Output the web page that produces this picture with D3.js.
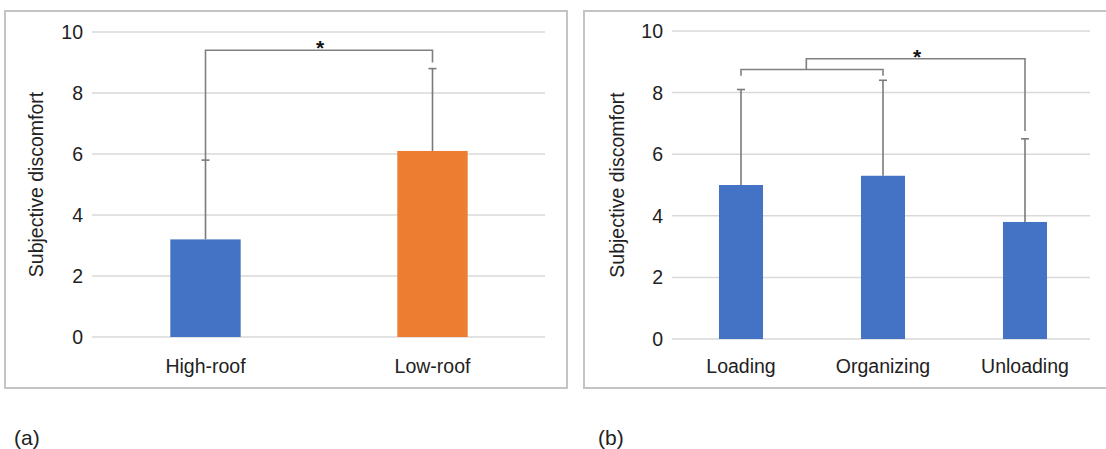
<!DOCTYPE html>
<html>
<head>
<meta charset="utf-8">
<title>Subjective discomfort</title>
<script src="https://cdn.jsdelivr.net/npm/d3@7"></script>
<style>
  body { margin: 0; background: #fff; }
  svg { display: block; font-family: "Liberation Sans", Arial, sans-serif; }
</style>
</head>
<body>
<div id="chart"></div>
<script>
// data
const roof_categories = ["High-roof", "Low-roof"];
const roof_means = [3.2, 6.1];
const roof_sd = [2.6, 2.7];
const roof_colors = ["#4472C4", "#ED7D31"];

const task_categories = ["Loading", "Organizing", "Unloading"];
const task_means = [5.0, 5.3, 3.8];
const task_sd = [3.1, 3.1, 2.7];
const task_colors = ["#4472C4", "#4472C4", "#4472C4"];

const y_ticks = [0, 2, 4, 6, 8, 10];
const y_label = "Subjective discomfort";
const panel_labels = ["(a)", "(b)"];

const svg = d3.select("#chart").append("svg")
  .attr("width", 1106).attr("height", 449);

function panel(settings) {
  const g = svg.append("g");
  const box = settings.box;

  g.append("rect")
    .attr("x", box[0]).attr("y", box[1])
    .attr("width", box[2] - box[0]).attr("height", box[3] - box[1])
    .attr("fill", "none").attr("stroke", "#c4c4c4").attr("stroke-width", 2);

  const y = d3.scaleLinear().domain([0, 10]).range(settings.y_range);
  const x = d3.scaleBand()
    .domain(settings.categories)
    .range(settings.x_range)
    .padding(0);
  const cx = d => x(d) + x.bandwidth() / 2;
  const bar_w = x.bandwidth() * 0.31;

  // gridlines
  g.append("g").selectAll("line")
    .data(y_ticks)
    .join("line")
      .attr("x1", settings.grid[0]).attr("x2", settings.grid[1])
      .attr("y1", d => y(d)).attr("y2", d => y(d))
      .attr("stroke", "#d9d9d9").attr("stroke-width", 1.5);

  // y axis labels
  g.append("g").selectAll("text")
    .data(y_ticks)
    .join("text")
      .attr("x", settings.grid[0] - 9)
      .attr("y", d => y(d))
      .attr("dy", "0.36em")
      .attr("text-anchor", "end")
      .attr("font-size", 19.5)
      .attr("fill", "#222")
      .text(d => d);

  g.append("text")
    .attr("transform", `translate(${settings.title_x},${(y(0) + y(10)) / 2}) rotate(-90)`)
    .attr("text-anchor", "middle")
    .attr("dy", "0.35em")
    .attr("font-size", 19.5)
    .attr("fill", "#222")
    .text(y_label);

  // bars
  g.append("g").selectAll("rect")
    .data(settings.categories)
    .join("rect")
      .attr("x", d => cx(d) - bar_w / 2)
      .attr("y", (d, i) => y(settings.means[i]))
      .attr("width", bar_w)
      .attr("height", (d, i) => y(0) - y(settings.means[i]))
      .attr("fill", (d, i) => settings.colors[i]);

  // error bars
  const err = g.append("g").attr("stroke", "#7a7a7a").attr("stroke-width", 1.6);
  settings.categories.forEach((d, i) => {
    const top = settings.means[i] + settings.sd[i];
    err.append("line")
      .attr("x1", cx(d)).attr("x2", cx(d))
      .attr("y1", y(settings.means[i])).attr("y2", y(top));
    err.append("line")
      .attr("x1", cx(d) - 4).attr("x2", cx(d) + 4)
      .attr("y1", y(top)).attr("y2", y(top));
  });

  // category labels
  g.append("g").selectAll("text")
    .data(settings.categories)
    .join("text")
      .attr("x", d => cx(d))
      .attr("y", settings.label_y)
      .attr("text-anchor", "middle")
      .attr("font-size", 19.5)
      .attr("fill", "#222")
      .text(d => d);

  // significance brackets
  const br = g.append("g").attr("fill", "none").attr("stroke", "#808080").attr("stroke-width", 1.6);
  settings.brackets(br, x, cx, y);

  g.append("text")
    .attr("x", settings.star[0]).attr("y", settings.star[1])
    .attr("text-anchor", "middle")
    .attr("font-size", 21)
    .attr("font-weight", "bold")
    .attr("fill", "#111")
    .text("*");

  svg.append("text")
    .attr("x", settings.panel_label[0]).attr("y", settings.panel_label[1])
    .attr("font-family", "'Liberation Sans Narrow', 'Liberation Sans', sans-serif")
    .attr("font-size", 21)
    .attr("fill", "#222")
    .text(settings.panel_name);
}

panel({
  box: [5, 11, 567, 388],
  categories: roof_categories,
  means: roof_means,
  sd: roof_sd,
  colors: roof_colors,
  y_range: [337, 32],
  x_range: [92, 546],
  grid: [92, 545],
  title_x: 36,
  label_y: 373,
  star: [320, 55],
  panel_label: [14, 445],
  panel_name: panel_labels[0],
  brackets: (br, x, cx, y) => {
    const a = cx(roof_categories[0]), b = cx(roof_categories[1]);
    br.append("path")
      .attr("d", `M${a},${y(roof_means[0] + roof_sd[0])}V${y(9.4)}H${b}V${y(9.0)}`);
  }
});

panel({
  box: [584, 11, 1112, 388],
  categories: task_categories,
  means: task_means,
  sd: task_sd,
  colors: task_colors,
  y_range: [339, 31],
  x_range: [670, 1096],
  grid: [672, 1090],
  title_x: 617,
  label_y: 373,
  star: [917, 64],
  panel_label: [598, 445],
  panel_name: panel_labels[1],
  brackets: (br, x, cx, y) => {
    const a = cx(task_categories[0]), b = cx(task_categories[1]), c = cx(task_categories[2]);
    br.append("path")
      .attr("d", `M${a},${y(8.55)}V${y(8.75)}H${b}V${y(8.55)}`);
    const m = a + (b - a) * 0.46;
    br.append("path")
      .attr("d", `M${m},${y(8.75)}V${y(9.1)}H${c}V${y(6.75)}`);
  }
});
</script>
</body>
</html>
